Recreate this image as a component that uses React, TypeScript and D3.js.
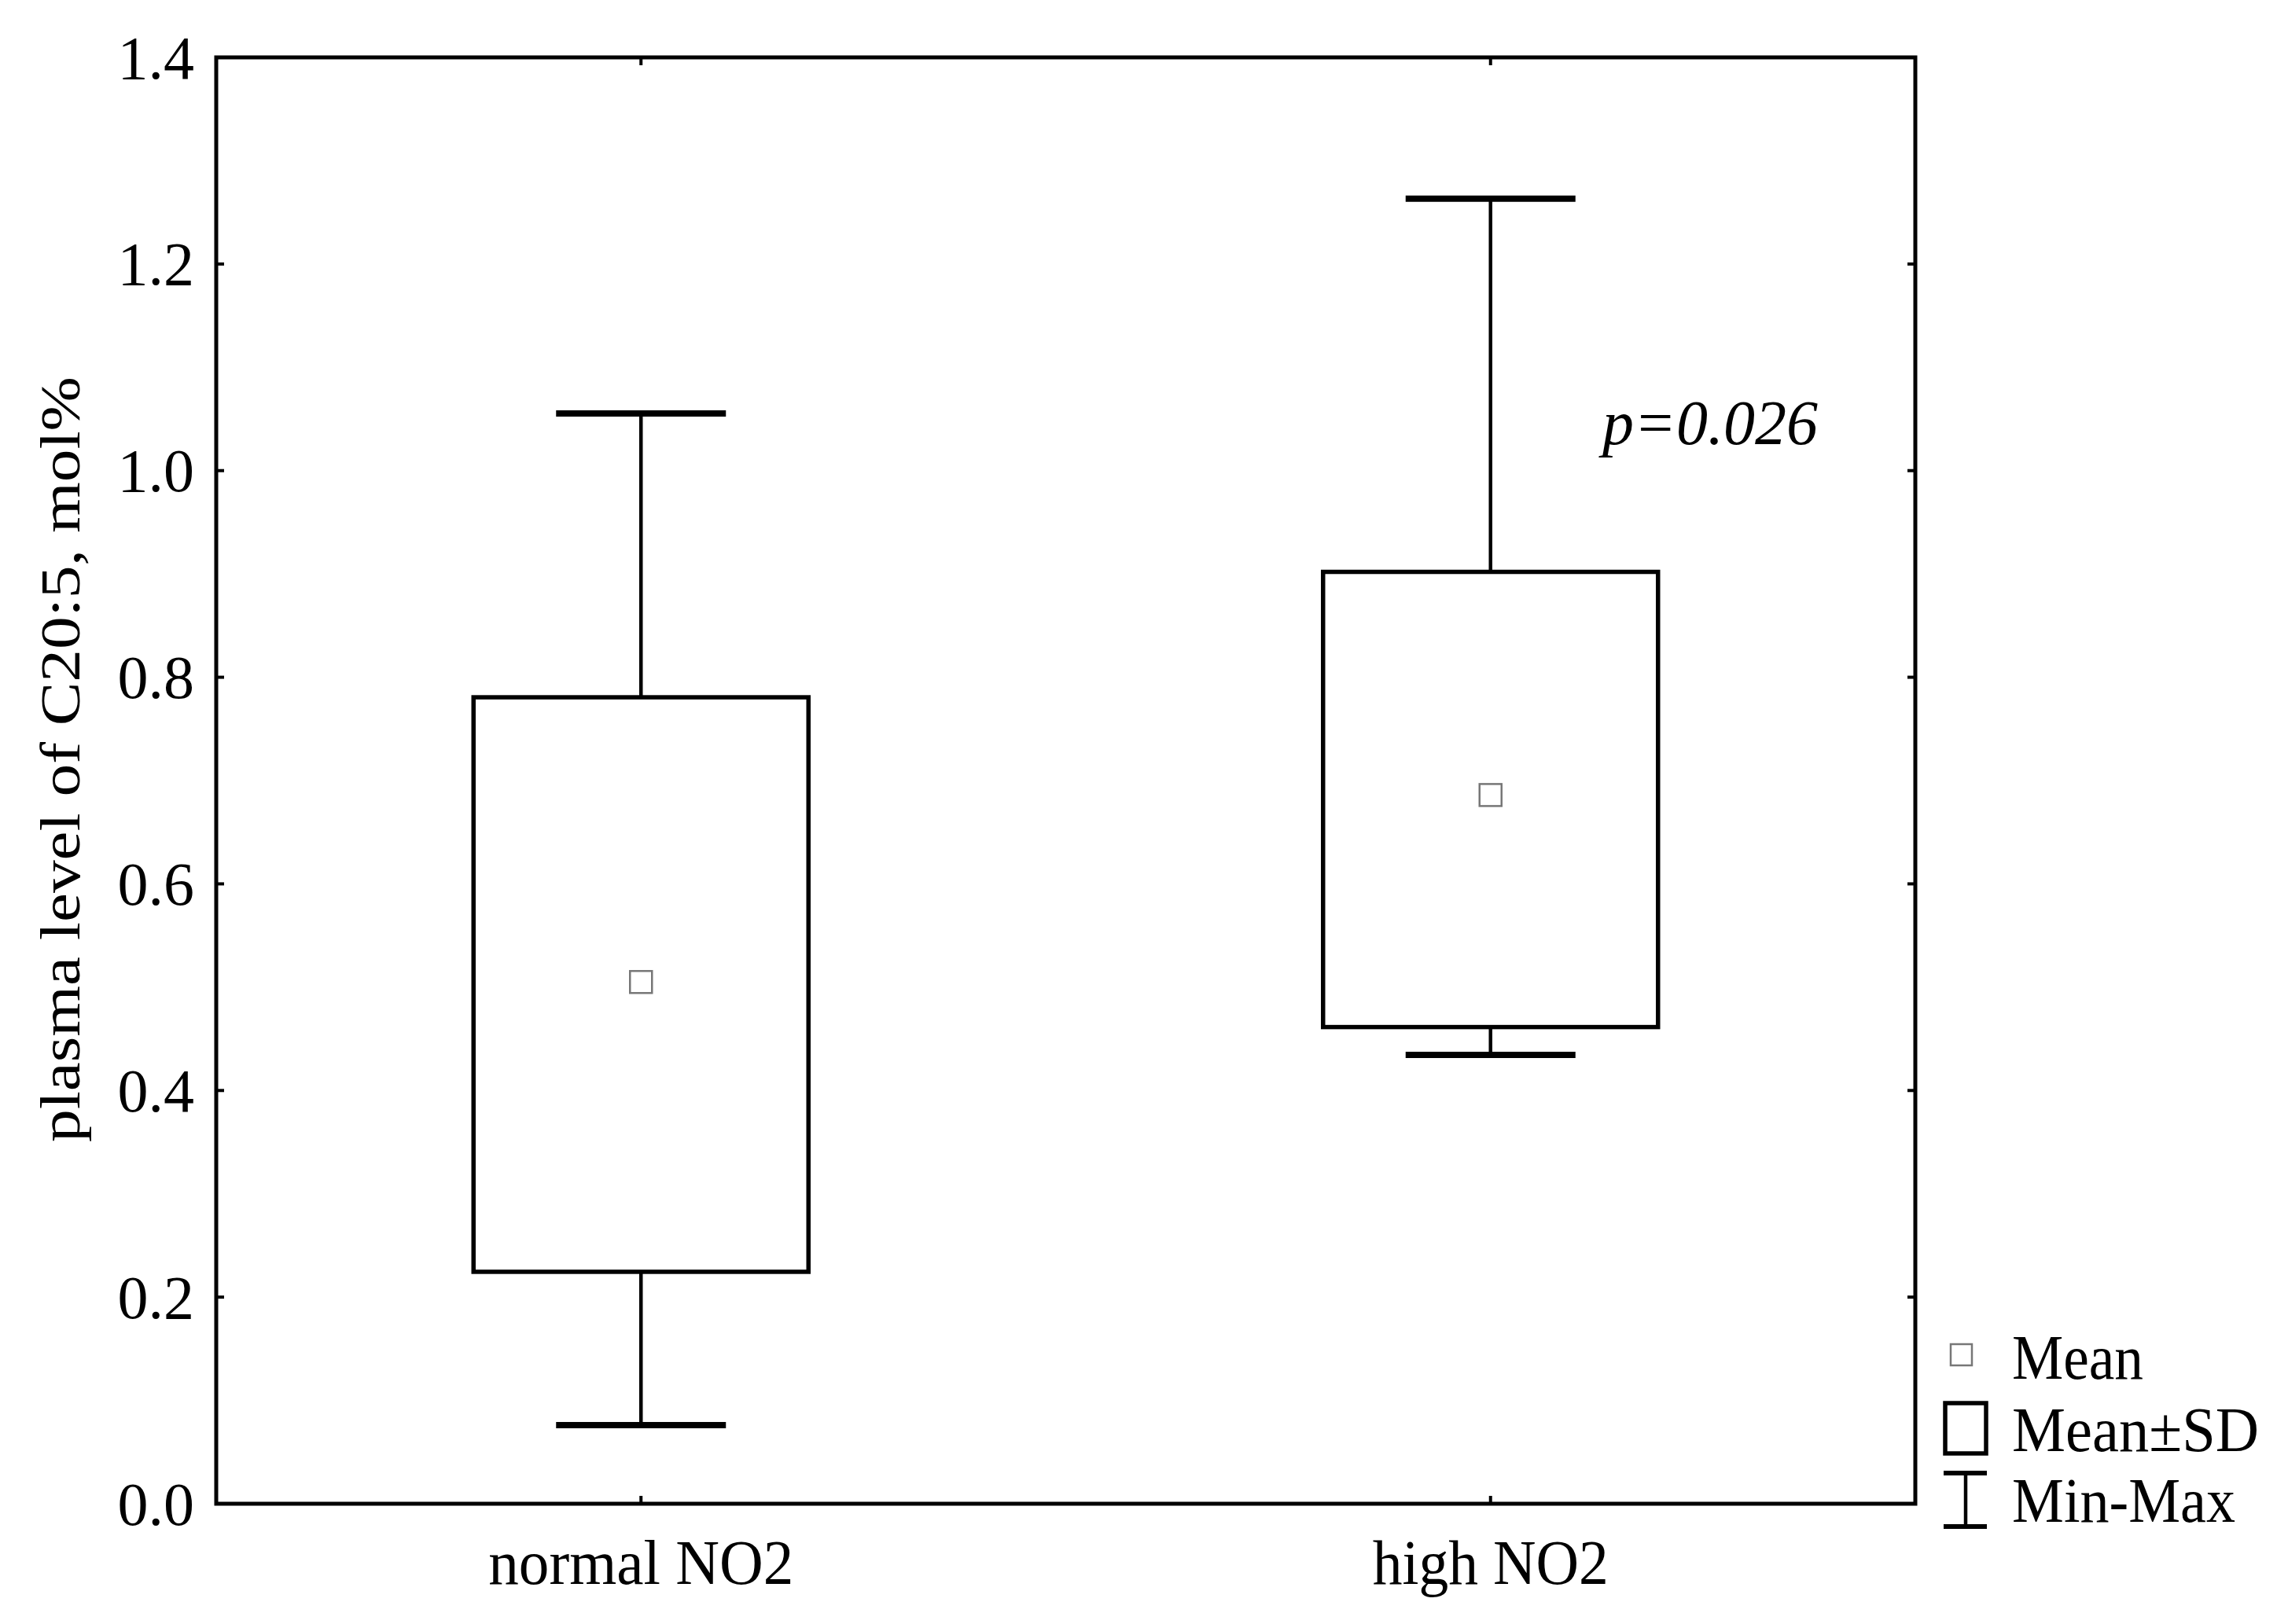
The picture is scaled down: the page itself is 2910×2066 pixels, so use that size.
import React from "react";
import * as d3 from "d3";

const categories = ["normal NO2", "high NO2"];
const means = [0.505, 0.686];
const sdLower = [0.2245, 0.4614];
const sdUpper = [0.7806, 0.902];
const mins = [0.0761, 0.4345];
const maxs = [1.0553, 1.2633];
const yTicks = [0.0, 0.2, 0.4, 0.6, 0.8, 1.0, 1.2, 1.4];
const yLabel = "plasma level of C20:5, mol%";
const pText = "p=0.026";
const legendItems = ["Mean", "Mean\u00B1SD", "Min-Max"];

const W = 2910;
const H = 2066;
const L = 275, R = 2436, T = 73, B = 1913;
const FONT = "'Liberation Serif', 'Times New Roman', Times, serif";

export default function App() {
  const y = d3.scaleLinear().domain([0, 1.4]).range([B, T]);
  const x = d3.scalePoint<string>().domain(categories).range([L, R]).padding(0.5);
  const boxW = 426;
  const capW = 216;
  const mk = 28;
  const tickLen = 10;
  const catWidths = [388, 300];

  return (
    <svg width={W} height={H} style={{ position: "absolute", left: 0, top: 0, background: "#fff" }}>
      <rect x={0} y={0} width={W} height={H} fill="#fff" />
      {/* ticks */}
      {yTicks.map((t) => (
        <g key={"t" + t}>
          <line x1={L} x2={L + tickLen} y1={y(t)} y2={y(t)} stroke="#000" strokeWidth={4} />
          <line x1={R} x2={R - tickLen} y1={y(t)} y2={y(t)} stroke="#000" strokeWidth={4} />
          <text x={247} y={y(t)} dy="0.34em" textAnchor="end" fontFamily={FONT} fontSize={78} fill="#000">
            {d3.format(".1f")(t)}
          </text>
        </g>
      ))}
      {categories.map((c, i) => (
        <g key={"c" + c}>
          <line x1={x(c)} x2={x(c)} y1={B} y2={B - tickLen} stroke="#000" strokeWidth={4} />
          <line x1={x(c)} x2={x(c)} y1={T} y2={T + tickLen} stroke="#000" strokeWidth={4} />
          <text x={x(c)} y={2015} textAnchor="middle" fontFamily={FONT} fontSize={80} fill="#000"
            textLength={catWidths[i]} lengthAdjust="spacingAndGlyphs">
            {c}
          </text>
        </g>
      ))}
      {/* frame */}
      <rect x={L} y={T} width={R - L} height={B - T} fill="none" stroke="#000" strokeWidth={5} />
      {/* boxes */}
      {categories.map((c, i) => {
        const cx = x(c) as number;
        return (
          <g key={"b" + c}>
            <line x1={cx} x2={cx} y1={y(maxs[i])} y2={y(sdUpper[i])} stroke="#000" strokeWidth={4.5} />
            <line x1={cx} x2={cx} y1={y(sdLower[i])} y2={y(mins[i])} stroke="#000" strokeWidth={4.5} />
            <line x1={cx - capW / 2} x2={cx + capW / 2} y1={y(maxs[i])} y2={y(maxs[i])} stroke="#000" strokeWidth={8} />
            <line x1={cx - capW / 2} x2={cx + capW / 2} y1={y(mins[i])} y2={y(mins[i])} stroke="#000" strokeWidth={8} />
            <rect x={cx - boxW / 2} y={y(sdUpper[i])} width={boxW} height={y(sdLower[i]) - y(sdUpper[i])}
              fill="#fff" stroke="#000" strokeWidth={5.5} />
            <rect x={cx - mk / 2} y={y(means[i]) - mk / 2} width={mk} height={mk} fill="#fff" stroke="#777" strokeWidth={2.5} />
          </g>
        );
      })}
      {/* p value */}
      <text x={2038} y={565} fontFamily={FONT} fontStyle="italic" fontSize={80} fill="#000">
        {pText}
      </text>
      {/* y label */}
      <text transform={`translate(101, 966) rotate(-90)`} textAnchor="middle" fontFamily={FONT} fontSize={72} fill="#000"
        textLength={974} lengthAdjust="spacingAndGlyphs">
        {yLabel}
      </text>
      {/* legend */}
      <g>
        <rect x={2481} y={1710} width={27} height={27} fill="#fff" stroke="#777" strokeWidth={2.5} />
        <rect x={2474} y={1785} width={52} height={64} fill="none" stroke="#000" strokeWidth={5.5} />
        <line x1={2472} x2={2527} y1={1874} y2={1874} stroke="#000" strokeWidth={6} />
        <line x1={2472} x2={2527} y1={1942} y2={1942} stroke="#000" strokeWidth={6} />
        <line x1={2500} x2={2500} y1={1874} y2={1942} stroke="#000" strokeWidth={4.5} />
        <text x={2559} y={1754} fontFamily={FONT} fontSize={80} fill="#000" textLength={167} lengthAdjust="spacingAndGlyphs">{legendItems[0]}</text>
        <text x={2559} y={1846} fontFamily={FONT} fontSize={80} fill="#000" textLength={314} lengthAdjust="spacingAndGlyphs">{legendItems[1]}</text>
        <text x={2559} y={1936} fontFamily={FONT} fontSize={80} fill="#000" textLength={284} lengthAdjust="spacingAndGlyphs">{legendItems[2]}</text>
      </g>
    </svg>
  );
}
